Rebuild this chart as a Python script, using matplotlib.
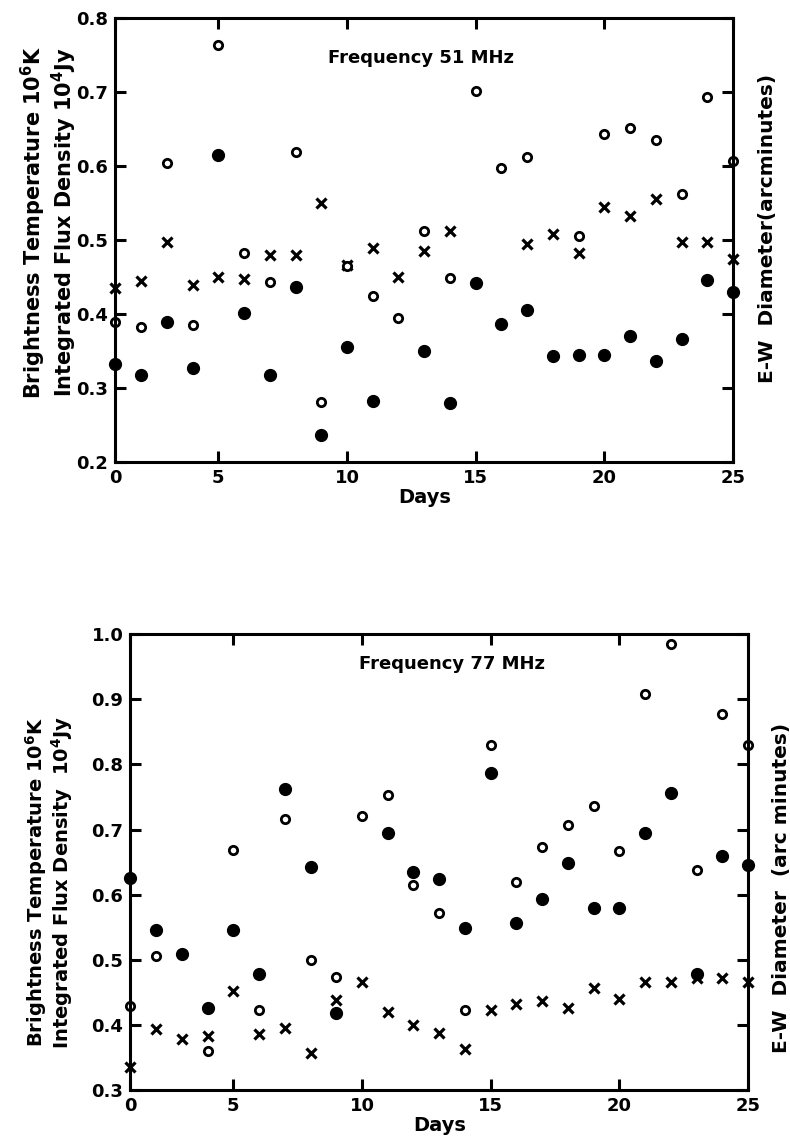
import numpy as np
import matplotlib
matplotlib.use("Agg")
import matplotlib.pyplot as plt

nan = np.nan
days = [0, 1.25, 2.5, 3.75, 5, 6, 7, 8, 9, 10, 11, 12, 13, 14, 15, 16, 17, 18, 19, 20, 21, 22, 23, 24, 25]

# 51 MHz
open51 = [0.39, 0.383, 0.605, 0.385, 0.764, 0.483, 0.444, 0.619, 0.281, 0.465, 0.424, 0.395, 0.513,
          0.449, 0.702, 0.598, 0.613, nan, 0.505, 0.643, 0.651, 0.636, 0.563, 0.694, 0.607]
filled51 = [0.333, 0.318, 0.39, 0.327, 0.615, 0.401, 0.318, 0.437, 0.237, 0.355, 0.283, nan, 0.35,
            0.28, 0.442, 0.387, 0.405, 0.343, 0.345, 0.345, 0.37, 0.337, 0.367, 0.446, 0.43]
cross51 = [0.435, 0.445, 0.497, 0.44, 0.45, 0.447, 0.48, 0.48, 0.55, 0.467, 0.49, 0.45, 0.485,
           0.513, nan, nan, 0.495, 0.508, 0.482, 0.545, 0.533, 0.555, 0.497, 0.497, 0.475]

# 77 MHz
open77 = [0.428, 0.506, nan, 0.36, 0.668, 0.423, 0.716, 0.499, 0.473, 0.72, 0.753, 0.615, 0.571,
          0.423, 0.83, 0.62, 0.673, 0.707, 0.736, 0.667, 0.909, 0.985, 0.638, 0.877, 0.83]
filled77 = [0.626, 0.546, 0.508, 0.426, 0.546, 0.478, 0.762, 0.643, 0.418, nan, 0.695, 0.635, 0.624,
            0.548, 0.787, 0.557, 0.593, 0.648, 0.58, 0.58, 0.694, 0.756, 0.478, 0.66, 0.645]
cross77 = [0.335, 0.393, 0.378, 0.382, 0.451, 0.385, 0.395, 0.357, 0.438, 0.465, 0.419, 0.40, 0.387,
           0.362, 0.423, 0.431, 0.436, 0.425, 0.457, 0.44, 0.465, 0.465, 0.472, 0.472, 0.465]

xticks = [0, 5, 10, 15, 20, 25]
yticks51 = [0.2, 0.3, 0.4, 0.5, 0.6, 0.7, 0.8]
yticks77 = [0.3, 0.4, 0.5, 0.6, 0.7, 0.8, 0.9, 1.0]


def fwd(x):
    x = np.asarray(x, float)
    return np.where(x < 5, x * 0.8, x - 1.0)


def inv(y):
    y = np.asarray(y, float)
    return np.where(y < 4, y / 0.8, y + 1.0)


plt.rcParams['font.family'] = ['DejaVu Sans']
plt.rcParams['font.weight'] = 'bold'
plt.rcParams['mathtext.default'] = 'bf'

fig = plt.figure(figsize=(7.9, 11.41), dpi=100)
ax1 = fig.add_axes([0.146, 0.595, 0.782, 0.389])
ax2 = fig.add_axes([0.165, 0.045, 0.782, 0.399])


def style(ax, yticks, ylim):
    ax.set_xscale('function', functions=(fwd, inv))
    ax.set_xlim(0, 25)
    ax.set_ylim(*ylim)
    ax.set_xticks(xticks)
    ax.set_xticklabels([str(t) for t in xticks])
    ax.set_yticks(yticks)
    ax.set_yticklabels([f"{t:.1f}" for t in yticks])
    ax.xaxis.set_minor_locator(matplotlib.ticker.NullLocator())
    for s in ax.spines.values():
        s.set_linewidth(2.2)
    ax.tick_params(direction='in', length=8, width=2.2, top=True, right=True,
                   labelsize=13, pad=5)
    for lab in ax.get_xticklabels() + ax.get_yticklabels():
        lab.set_fontweight('bold')
    ax.set_xlabel('Days', fontsize=14, fontweight='bold', labelpad=1)


def plot_series(ax, o, f, c):
    ax.plot(days, c, linestyle='none', marker='x', ms=6.5, mew=2.3, color='black', clip_on=False)
    ax.plot(days, o, linestyle='none', marker='o', ms=6, mew=2.0, mfc='white', mec='black', clip_on=False)
    ax.plot(days, f, linestyle='none', marker='o', ms=8.5, color='black', clip_on=False)


style(ax1, yticks51, (0.2, 0.8))
plot_series(ax1, open51, filled51, cross51)
ax1.text(9.27, 0.746, 'Frequency 51 MHz', fontsize=13, fontweight='bold', va='center', ha='left')

style(ax2, yticks77, (0.3, 1.0))
plot_series(ax2, open77, filled77, cross77)
ax2.text(9.9, 0.955, 'Frequency 77 MHz', fontsize=13, fontweight='bold', va='center', ha='left')

fig.text(49 / 790, 1 - 222 / 1141,
         'Brightness Temperature 10$^{6}$K\nIntegrated Flux Density 10$^{4}$Jy',
         rotation=90, ha='center', va='center', fontsize=15, fontweight='bold', linespacing=1.05)
fig.text(49 / 790, 1 - 882 / 1141,
         'Brightness Temperature 10$^{6}$K\nIntegrated Flux Density  10$^{4}$Jy',
         rotation=90, ha='center', va='center', fontsize=14, fontweight='bold', linespacing=1.05)

fig.text(767 / 790, 1 - 228 / 1141, 'E-W  Diameter(arcminutes)', rotation=90,
         ha='center', va='center', fontsize=14.5, fontweight='bold')
fig.text(781 / 790, 1 - 888 / 1141, 'E-W  Diameter  (arc minutes)', rotation=90,
         ha='center', va='center', fontsize=14.5, fontweight='bold')

fig.savefig('out.png', dpi=100)
